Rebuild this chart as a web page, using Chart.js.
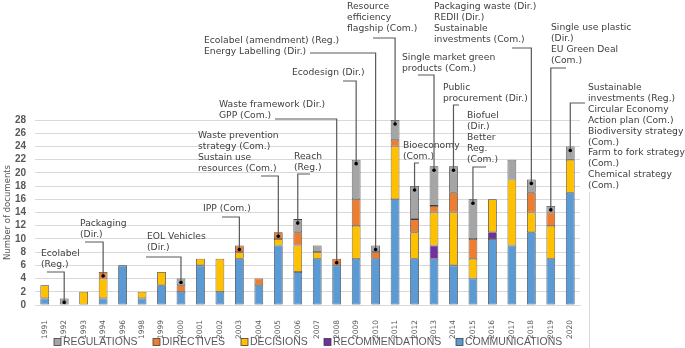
<!DOCTYPE html>
<html>
<head>
<meta charset="utf-8">
<script src="https://cdn.jsdelivr.net/npm/chart.js@4.4.0/dist/chart.umd.min.js"></script>
<style>
  html, body { margin: 0; padding: 0; background: #fff; }
  #wrap { width: 685px; height: 348px; }
</style>
</head>
<body>
<div id="wrap"><canvas id="myChart" width="685" height="348"></canvas></div>
<script>
// years on the x axis (1995 and 1997 have no documents and are not shown)
const years = ['1991','1992','1993','1994','1996','1998','1999','2000','2001','2002','2003','2004','2005','2006',
               '2007','2008','2009','2010','2011','2012','2013','2014','2015','2016','2017','2018','2019','2020'];

// number of documents per type (stacked bottom -> top)
const communications  = [1,0,0,1,6,1,3,2,6,2,7,3,9,5,7,6,7,7,16,7,7,6,4,10,9,11,7,17];
const recommendations = [0,0,0,0,0,0,0,0,0,0,0,0,0,0,0,0,0,0,0,0,2,0,0,1,0,0,0,0];
const decisions       = [2,0,2,3,0,1,2,0,1,5,1,0,1,4,1,0,5,0,8,4,5,8,3,5,10,3,5,5];
const directives      = [0,0,0,1,0,0,0,1,0,0,1,1,1,2,0,1,4,1,1,2,1,3,3,0,0,3,2,0];
const regulations     = [0,1,0,0,0,0,0,1,0,0,0,0,0,2,1,0,6,1,3,5,6,4,6,0,3,2,1,2];

const yTicks = [0,2,4,6,8,10,12,14,16,18,20,22,24,26,28];

const seriesNames  = ['COMMUNICATIONS','RECOMMENDATIONS','DECISIONS','DIRECTIVES','REGULATIONS'];
const seriesColors = ['#5b9bd5','#7030a0','#ffc000','#ed7d31','#a5a5a5'];
const seriesData   = [communications, recommendations, decisions, directives, regulations];
const legendOrder  = [4,3,2,1,0];
const legendX      = [54,153,241,324,456];

// callout texts and the year each one points to
const noteYears = ['1992','1994','2000','2003','2005','2006','2008','2010','2009','2011','2013','2012','2014','2015','2018','2019','2020'];
const noteTexts = [
  ['Ecolabel','(Reg.)'],
  ['Packaging','(Dir.)'],
  ['EOL Vehicles','(Dir.)'],
  ['IPP (Com.)'],
  ['Waste prevention','strategy (Com.)','Sustain use','resources (Com.)'],
  ['Reach','(Reg.)'],
  ['Waste framework (Dir.)','GPP (Com.)'],
  ['Ecolabel (amendment) (Reg.)','Energy Labelling (Dir.)'],
  ['Ecodesign (Dir.)'],
  ['Resource','efficiency','flagship (Com.)'],
  ['Single market green','products (Com.)'],
  ['Bioeconomy','(Com.)'],
  ['Public','procurement (Dir.)'],
  ['Biofuel','(Dir.)','Better','Reg.','(Com.)'],
  ['Packaging waste (Dir.)','REDII (Dir.)','Sustainable','investments (Com.)'],
  ['Single use plastic','(Dir.)','EU Green Deal','(Com.)'],
  ['Sustainable','investments (Reg.)','Circular Economy','Action plan (Com.)','Biodiversity strategy','(Com.)',
   'Farm to fork strategy','(Com.)','Chemical strategy','(Com.)']
];
// where each callout box sits on the page: text x, first line y, leader start x, leader y
const noteLayout = [
  [41,254,47,272],[80,224,85,242],[147,237,146,257],[203,209,222,217],[198,136,261,176],
  [294,157,310,174],[219,105,275,119],[204,41,310,53],[292,73,343,81],[347,7,373,38],
  [402,58,418,75],[403,146,419,163],[443,88,459,105],[467,116,486,167],[434,7,512,48],
  [551,28,566,68],[588,88,585,103]
];

const notesPlugin = {
  id: 'notes',
  afterDatasetsDraw(chart) {
    const ctx = chart.ctx;
    const xs = chart.scales.x, ys = chart.scales.y;
    ctx.save();
    noteYears.forEach((yr, n) => {
      const i = years.indexOf(yr);
      let total = 0;
      seriesData.forEach(d => total += d[i]);
      const bx = xs.getPixelForValue(i);
      const dy = ys.getPixelForValue(total) + 4;
      const [tx, ty, lx, ly] = noteLayout[n];
      ctx.strokeStyle = '#595959';
      ctx.lineWidth = 1.2;
      ctx.beginPath();
      ctx.moveTo(lx, ly);
      ctx.lineTo(bx, ly);
      ctx.lineTo(bx, dy);
      ctx.stroke();
      ctx.fillStyle = '#000';
      ctx.beginPath();
      ctx.arc(bx, dy, 1.8, 0, Math.PI * 2);
      ctx.fill();
      ctx.fillStyle = '#404040';
      ctx.font = '9.2px "DejaVu Sans"';
      ctx.textAlign = 'left';
      ctx.textBaseline = 'middle';
      noteTexts[n].forEach((t, k) => ctx.fillText(t, tx, ty + k * 10.85));
    });
    ctx.restore();
  },
  afterDraw(chart) {
    const ctx = chart.ctx;
    ctx.save();
    // thin frame line on the right of the plot
    ctx.strokeStyle = '#d9d9d9';
    ctx.lineWidth = 1;
    ctx.beginPath();
    ctx.moveTo(589.5, 192);
    ctx.lineTo(589.5, 348);
    ctx.stroke();
    // legend
    ctx.font = '10.5px "Liberation Sans"';
    ctx.textAlign = 'left';
    ctx.textBaseline = 'middle';
    const y = 342;
    legendOrder.forEach((k, j) => {
      const x = legendX[j];
      ctx.fillStyle = seriesColors[k];
      ctx.fillRect(x, y - 3.5, 7, 7);
      ctx.strokeStyle = '#3f3f3f';
      ctx.lineWidth = 0.8;
      ctx.strokeRect(x, y - 3.5, 7, 7);
      ctx.fillStyle = '#595959';
      ctx.fillText(seriesNames[k], x + 9, y + 0.5);
    });
    ctx.restore();
  }
};

const ctx = document.getElementById('myChart').getContext('2d');
const myChart = new Chart(ctx, {
  type: 'bar',
  data: {
    labels: years,
    datasets: seriesData.map((d, i) => ({
      label: seriesNames[i],
      data: d.map(v => v === 0 ? null : v),
      backgroundColor: seriesColors[i],
      borderColor: '#3f3f3f',
      borderWidth: 0.8,
      borderSkipped: false,
      barPercentage: 0.45,
      categoryPercentage: 1
    }))
  },
  options: {
    responsive: false,
    devicePixelRatio: 1,
    animation: false,
    layout: { padding: { top: 120, right: 105, left: 0, bottom: 0 } },
    scales: {
      x: {
        stacked: true,
        grid: { display: false },
        border: { color: '#d9d9d9' },
        ticks: {
          minRotation: 90, maxRotation: 90, padding: 7, autoSkip: false,
          color: '#595959', font: { family: 'DejaVu Sans', size: 7.5 }
        },
        afterFit: s => { s.height = 43; }
      },
      y: {
        stacked: true,
        min: 0, max: 28,
        afterBuildTicks: s => { s.ticks = yTicks.map(v => ({ value: v })); },
        grid: { color: '#d9d9d9', drawTicks: false },
        border: { display: false },
        ticks: {
          padding: 9, color: '#595959', autoSkip: false,
          font: { family: 'Liberation Sans', size: 10, weight: 'bold' }
        },
        title: {
          display: true, text: 'Number of documents', color: '#595959',
          font: { family: 'DejaVu Sans', size: 8.5 }, padding: { top: 3, bottom: 0 }
        },
        afterFit: s => { s.width = 35; }
      }
    },
    plugins: {
      legend: { display: false },
      tooltip: { enabled: false }
    }
  },
  plugins: [notesPlugin]
});
</script>
</body>
</html>
